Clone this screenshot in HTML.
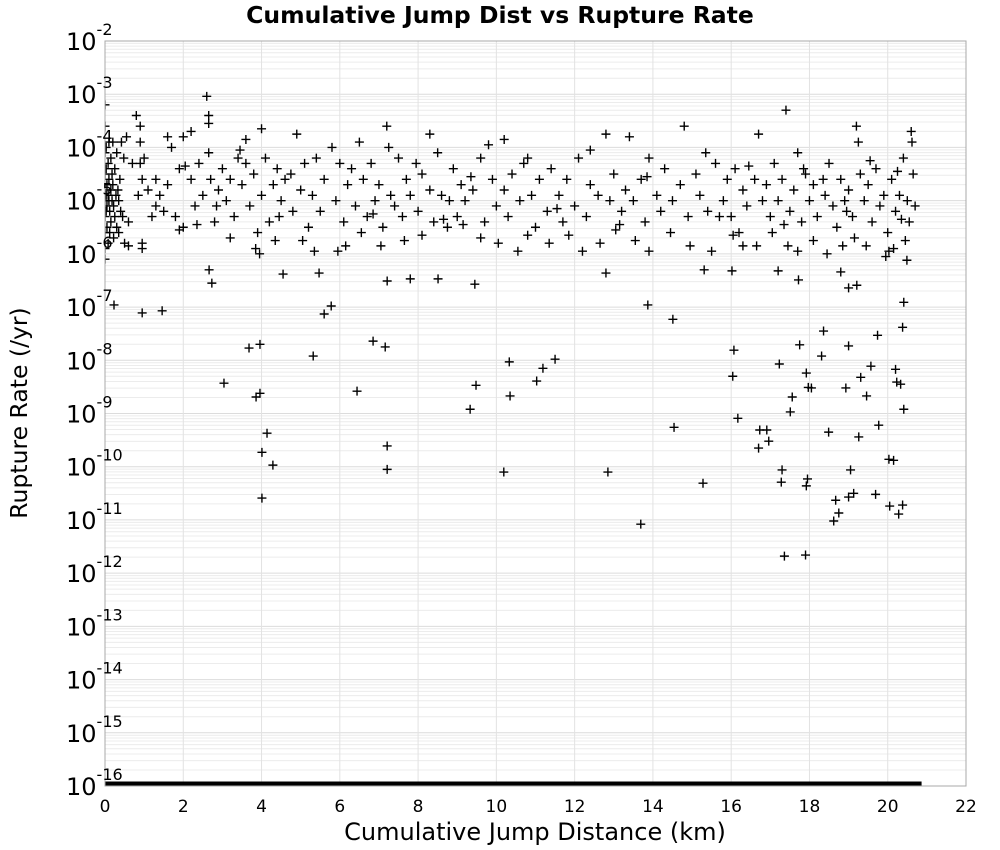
<!DOCTYPE html>
<html><head><meta charset="utf-8">
<style>
html,body{margin:0;padding:0;background:#fff;}
svg{display:block;font-family:"DejaVu Sans","Liberation Sans",sans-serif;}
</style></head>
<body>
<svg id="chart" width="1000" height="850" viewBox="0 0 1000 850" xmlns="http://www.w3.org/2000/svg">
<defs><clipPath id="plotclip"><rect x="105" y="41" width="861" height="745"/></clipPath></defs>
<rect x="0" y="0" width="1000" height="850" fill="#fff"/>
<text x="500" y="23" text-anchor="middle" font-size="23.5" font-weight="bold">Cumulative Jump Dist vs Rupture Rate</text>
<g id="grid"></g>
<g id="marks" clip-path="url(#plotclip)"></g>
<rect x="105" y="41" width="861" height="745" fill="none" stroke="#a8a8a8" stroke-width="1"/>
<g id="yticks"></g>
<g id="xticks"></g>
<text x="535" y="840" text-anchor="middle" font-size="24">Cumulative Jump Distance (km)</text>
<text transform="translate(27,413) rotate(-90)" text-anchor="middle" font-size="23.5">Rupture Rate (/yr)</text>
</svg>
<script>
// Data: [cumulative jump distance (km), log10 rupture rate]
const lowPoints = [
[0.23,-6.96],[0.95,-7.11],[1.46,-7.07],[2.66,-6.30],[2.73,-6.55],[3.96,-7.70],[3.68,-7.77],[3.04,-8.43],
[3.86,-8.69],[3.96,-8.62],[4.14,-9.37],[4.01,-9.73],[4.29,-9.97],[4.01,-10.59],[4.55,-6.38],[5.47,-6.36],
[5.60,-7.13],[5.78,-6.98],[5.32,-7.92],[6.44,-8.58],[6.85,-7.64],[7.16,-7.75],[7.21,-6.51],[7.21,-9.61],
[7.21,-10.05],[7.80,-6.47],[8.51,-6.47],[9.45,-6.57],[9.33,-8.92],[9.48,-8.47],[10.35,-8.67],[10.33,-8.03],
[10.19,-10.10],[11.03,-8.39],[11.19,-8.15],[11.50,-7.98],[12.80,-6.36],[12.85,-10.10],[13.69,-11.08],[13.87,-6.96],
[14.51,-7.23],[14.54,-9.26],[15.28,-10.31],[15.31,-6.30],[16.02,-6.32],[16.07,-7.81],[16.04,-8.30],[16.17,-9.09],
[16.73,-9.31],[16.70,-9.65],[16.91,-9.31],[16.96,-9.52],[17.20,-6.32],[17.23,-8.07],[17.30,-10.06],[17.28,-10.29],
[17.36,-11.68],[17.51,-8.97],[17.56,-8.69],[17.72,-6.49],[17.75,-7.71],[17.90,-11.66],[17.92,-10.36],[17.95,-10.23],
[17.92,-8.24],[18.05,-8.52],[17.97,-8.51],[18.36,-7.45],[18.31,-7.92],[18.49,-9.35],[18.62,-11.02],[18.67,-10.63],
[18.75,-10.87],[18.80,-6.34],[19.00,-6.64],[19.21,-6.59],[19.00,-7.73],[18.93,-8.52],[19.05,-10.06],[19.00,-10.57],
[19.13,-10.50],[19.26,-9.44],[19.31,-8.32],[19.46,-8.67],[19.57,-8.11],[19.69,-10.52],[19.74,-7.53],[19.77,-9.22],
[20.03,-9.86],[20.15,-9.88],[20.20,-8.17],[20.23,-8.41],[20.28,-10.89],[20.38,-10.72],[20.05,-10.74],[20.33,-8.45],
[20.38,-7.38],[20.41,-6.91],[20.41,-8.92],[20.49,-6.12],[20.03,-5.95]
];
const bandPoints = [
[0.00,-3.2],[0.00,-3.6],[0.00,-4.1],[0.00,-4.5],[0.00,-4.8],[0.00,-5.0],[0.00,-5.3],[0.00,-5.6],[0.00,-5.9],[0.00,-6.1],
[0.03,-4.0],[0.03,-4.4],[0.03,-4.9],[0.03,-5.2],[0.05,-4.7],[0.05,-5.1],[0.05,-5.5],[0.08,-4.3],[0.08,-4.9],[0.08,-5.8],
[0.1,-3.9],[0.1,-4.6],[0.1,-5.0],[0.12,-5.2],[0.12,-5.6],[0.15,-4.2],[0.15,-4.8],[0.15,-5.4],[0.18,-4.5],[0.18,-5.0],
[0.2,-3.9],[0.2,-4.7],[0.22,-5.1],[0.22,-5.7],[0.25,-4.4],[0.25,-5.3],[0.28,-4.9],[0.3,-5.5],[0.3,-4.1],[0.33,-4.8],
[0.35,-5.0],[0.35,-5.6],[0.38,-4.6],[0.4,-5.2],[0.42,-3.9],[0.45,-5.3],[0.48,-4.2],[0.5,-5.8],[0.55,-3.8],[0.6,-5.4],
[0.8,-3.4],[0.9,-3.6],[0.85,-4.9],[0.9,-4.3],[0.95,-4.6],[0.95,-5.8],[0.9,-3.9],[1.0,-4.2],[1.3,-4.6],[1.3,-5.1],
[1.4,-4.9],[1.5,-5.2],[1.6,-3.8],[1.6,-4.7],[1.7,-4.0],[1.8,-5.3],[1.9,-4.4],[2.0,-5.5],[2.0,-3.8],[2.2,-3.7],
[2.2,-4.6],[2.3,-5.1],[2.4,-4.3],[2.5,-4.9],[2.6,-3.04],[2.65,-3.4],[2.65,-3.55],[2.65,-4.1],[2.7,-4.6],[2.8,-5.4],
[2.9,-4.8],[3.0,-4.4],[3.1,-5.0],[3.2,-4.6],[3.3,-5.3],[3.4,-4.2],[3.5,-4.7],[3.6,-3.85],[3.6,-4.3],[3.7,-5.1],
[3.8,-4.5],[3.9,-5.6],[4.0,-3.65],[4.0,-4.9],[4.1,-4.2],[4.2,-5.4],[4.3,-4.7],[4.4,-4.4],[4.5,-5.0],[4.6,-4.6],
[4.8,-5.2],[4.9,-3.75],[5.0,-4.8],[5.1,-4.3],[5.2,-5.5],[5.3,-4.9],[5.4,-4.2],[5.5,-5.2],[5.6,-4.6],[5.8,-4.0],
[5.9,-5.0],[6.0,-4.3],[6.1,-5.4],[6.2,-4.7],[6.4,-5.1],[6.5,-3.9],[6.6,-4.6],[6.7,-5.3],[6.8,-4.3],[6.9,-5.0],
[7.0,-4.7],[7.1,-5.5],[7.2,-3.6],[7.25,-4.0],[7.3,-4.9],[7.4,-5.1],[7.5,-4.2],[7.6,-5.3],[7.7,-4.6],[7.8,-4.9],
[8.0,-5.2],[8.1,-4.5],[8.3,-3.75],[8.3,-4.8],[8.4,-5.4],[8.5,-4.1],[8.6,-4.9],[8.8,-5.0],[8.9,-4.4],[9.0,-5.3],
[9.1,-4.7],[9.2,-5.0],[9.4,-4.8],[9.6,-4.2],[9.7,-5.4],[9.8,-3.95],[9.9,-4.6],[10.0,-5.1],[10.2,-3.85],[10.2,-4.8],
[10.3,-5.3],[10.4,-4.5],[10.6,-5.0],[10.7,-4.3],[10.9,-4.9],[11.0,-5.5],[11.1,-4.6],[11.3,-5.2],[11.4,-4.4],[11.6,-4.9],
[11.7,-5.4],[11.8,-4.6],[12.0,-5.1],[12.1,-4.2],[12.3,-5.3],[12.4,-4.7],[12.6,-4.9],[12.8,-3.75],[12.9,-5.0],[13.0,-4.5],
[13.2,-5.2],[13.3,-4.8],[13.4,-3.8],[13.5,-5.0],[13.7,-4.6],[13.8,-5.4],[13.9,-4.2],[14.1,-4.9],[14.2,-5.2],[14.3,-4.4],
[14.5,-5.0],[14.7,-4.7],[14.8,-3.6],[14.9,-5.3],[15.1,-4.5],[15.2,-4.9],[15.4,-5.2],[15.6,-4.3],[15.8,-5.0],[15.9,-4.6],
[16.0,-5.3],[16.1,-4.4],[16.2,-5.6],[16.3,-4.8],[16.4,-5.1],[16.6,-4.6],[16.7,-3.75],[16.8,-5.0],[16.9,-4.7],[17.0,-5.3],
[17.1,-4.3],[17.2,-5.0],[17.3,-4.6],[17.4,-3.3],[17.5,-5.2],[17.6,-4.8],[17.7,-4.1],[17.8,-5.4],[17.9,-4.5],[18.0,-5.0],
[18.1,-4.7],[18.2,-5.3],[18.4,-4.9],[18.5,-4.3],[18.6,-5.1],[18.7,-5.5],[18.8,-4.6],[18.9,-5.0],[19.0,-4.8],[19.1,-5.3],
[19.2,-3.6],[19.25,-3.9],[19.3,-4.5],[19.4,-5.0],[19.5,-4.7],[19.6,-5.4],[19.7,-4.4],[19.8,-5.1],[19.9,-4.9],[20.0,-5.6],
[20.1,-4.6],[20.2,-5.2],[20.3,-4.9],[20.4,-4.2],[20.5,-5.0],[20.55,-5.4],[20.6,-3.7],[20.62,-3.9],[20.65,-4.5],[20.7,-5.1]
];
const extraBandPoints = [
[0.6,-5.85],[0.95,-5.9],[1.9,-5.55],[2.35,-5.45],[3.2,-5.7],[3.85,-5.9],[3.95,-6.0],[4.35,-5.75],[5.05,-5.75],[5.35,-5.95],
[5.95,-5.95],[6.15,-5.85],[6.55,-5.6],[7.05,-5.85],[7.65,-5.75],[8.1,-5.65],[8.75,-5.5],[9.15,-5.45],[9.6,-5.7],[10.05,-5.8],
[10.55,-5.95],[10.8,-5.65],[11.35,-5.8],[11.85,-5.65],[12.2,-5.95],[12.65,-5.8],[13.05,-5.55],[13.55,-5.75],[13.9,-5.95],[14.45,-5.6],
[14.95,-5.85],[15.5,-5.95],[16.05,-5.65],[16.3,-5.85],[16.65,-5.85],[17.05,-5.6],[17.45,-5.85],[17.7,-5.95],[18.1,-5.75],[18.45,-6.0],
[18.85,-5.85],[19.15,-5.7],[19.45,-5.85],[19.95,-6.05],[20.15,-5.9],[20.45,-5.75],[0.7,-4.3],[1.1,-4.8],[2.05,-4.35],[3.45,-4.05],
[4.75,-4.5],[6.3,-4.4],[7.95,-4.3],[9.35,-4.55],[10.8,-4.2],[12.4,-4.05],[13.85,-4.55],[15.35,-4.1],[16.45,-4.35],[17.85,-4.4],
[18.35,-4.6],[19.55,-4.25],[20.25,-4.45],[1.2,-5.3],[2.85,-5.1],[4.45,-5.3],[6.85,-5.25],[8.65,-5.35],[11.55,-5.15],[13.15,-5.45],
[15.7,-5.3],[17.35,-5.45],[18.95,-5.2],[20.35,-5.35]
];
const zeroRateX = [0.0,0.5,1.0,2.0,3.0,4.0,5.0,6.0,7.0,8.0,9.0,10.0,11.0,12.0,13.0,14.0,15.0,16.0,17.0,18.0,19.0,20.0,20.75];
const zeroRateExp = -16;
const xTicks = [0,2,4,6,8,10,12,14,16,18,20,22];
const yDecades = [-2,-3,-4,-5,-6,-7,-8,-9,-10,-11,-12,-13,-14,-15,-16];

const X0=105, X1=966, Y0=41, Y1=786;
const xMin=0, xMax=22, yMin=-16, yMax=-2;
function xScale(v){return X0+(v-xMin)/(xMax-xMin)*(X1-X0);}
function yScale(e){return Y1-(e-yMin)/(yMax-yMin)*(Y1-Y0);}
const NS="http://www.w3.org/2000/svg";
function mk(tag,attrs){const el=document.createElementNS(NS,tag);for(const k in attrs)el.setAttribute(k,attrs[k]);return el;}

const grid=document.getElementById('grid');
for(let d=yMin; d<yMax; d++){
  for(let m=2;m<=9;m++){
    const y=yScale(d+Math.log10(m));
    const l=mk('line',{x1:X0,x2:X1,y1:y,y2:y,stroke:'#ececec','stroke-width':1});
    
    
    grid.appendChild(l);
  }
}
yDecades.forEach(d=>{
  const y=yScale(d);
  const l=mk('line',{x1:X0,x2:X1,y1:y,y2:y,stroke:'#dcdcdc','stroke-width':1});
  
  
  grid.appendChild(l);
});
xTicks.forEach(t=>{
  const x=xScale(t);
  const l=mk('line',{x1:x,x2:x,y1:Y0,y2:Y1,stroke:'#e2e2e2','stroke-width':1});
  
  
  grid.appendChild(l);
});

const yt=document.getElementById('yticks');
yDecades.forEach(d=>{
  const y=yScale(d);
  const t=mk('text',{x:66,y:y+9,'font-size':24});
  
  
  t.textContent='10';
  const s=mk('tspan',{dy:-15,'font-size':16});
  s.textContent=String(d);
  t.appendChild(s);
  yt.appendChild(t);
});
const xt=document.getElementById('xticks');
xTicks.forEach(v=>{
  const t=mk('text',{x:xScale(v),y:812,'text-anchor':'middle','font-size':17});
  
  
  t.textContent=String(v);
  xt.appendChild(t);
});

const marks=document.getElementById('marks');
function plus(x,y,name){
  const p=mk('path',{d:`M${x-4.5},${y}H${x+4.5}M${x},${y-4.5}V${y+4.5}`,stroke:'#000','stroke-width':1.4,fill:'none'});
  
  
  marks.appendChild(p);
}
bandPoints.concat(extraBandPoints, lowPoints).forEach(p=>plus(xScale(p[0]),yScale(p[1]),'rate-point'));
// zero-rate points (clamped to 1e-16) overlap into a thick band
const zy=yScale(zeroRateExp);
const zb=mk('rect',{x:xScale(Math.min(...zeroRateX))-4.5,y:zy-4.5,width:xScale(Math.max(...zeroRateX))-xScale(Math.min(...zeroRateX))+9,height:9,fill:'#000'});


marks.appendChild(zb);
zeroRateX.forEach(v=>plus(xScale(v),zy,'zero-rate-point'));
</script>
</body></html>
